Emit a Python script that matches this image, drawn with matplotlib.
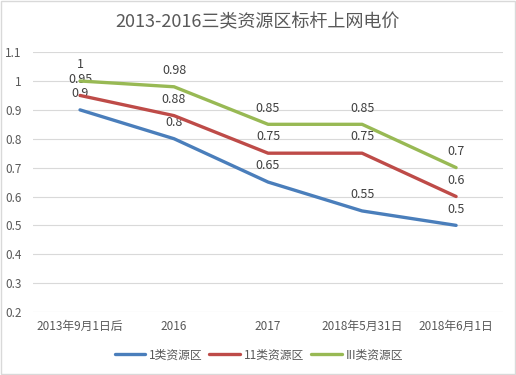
import numpy as np
import matplotlib
matplotlib.use("Agg")
import matplotlib.pyplot as plt

plt.rcParams['font.family'] = ['Noto Sans CJK SC', 'DejaVu Sans']

categories = ["2013年9月1日后", "2016", "2017", "2018年5月31日", "2018年6月1日"]
series_names = ["1类资源区", "11类资源区", "III类资源区"]
class1 = [0.9, 0.8, 0.65, 0.55, 0.5]
class2 = [0.95, 0.88, 0.75, 0.75, 0.6]
class3 = [1.0, 0.98, 0.85, 0.85, 0.7]
yticks = [0.2, 0.3, 0.4, 0.5, 0.6, 0.7, 0.8, 0.9, 1.0, 1.1]
colors = ["#4A7EBB", "#BE4B48", "#98B954"]

fig = plt.figure(figsize=(5.16, 3.75), dpi=100)
ax = fig.add_axes([0.064, 0.168, 0.911, 0.693])

x = np.arange(len(categories))
for vals, name, c in zip([class1, class2, class3], series_names, colors):
    ax.plot(x, vals, color=c, lw=2.4, label=name, solid_capstyle='round', zorder=3)
    for xi, v in zip(x, vals):
        ax.annotate("%g" % v, (xi, v), xytext=(0, 7), textcoords="offset points",
                    ha="center", va="bottom", fontsize=9, color="#404040")

ax.set_xlim(-0.5, len(categories) - 0.5)
ax.set_ylim(0.2, 1.1)
ax.set_yticks(yticks)
ax.set_yticklabels(["%g" % t for t in yticks])
ax.set_xticks(x)
ax.set_xticklabels(categories)
ax.tick_params(length=0, labelsize=8.5, labelcolor="#595959")
ax.tick_params(axis='y', pad=8)
ax.tick_params(axis='x', pad=6)
ax.grid(axis='y', color="#D9D9D9", lw=0.8)
ax.set_axisbelow(True)
for s in ax.spines.values():
    s.set_visible(False)

fig.text(0.5, 0.94, "2013-2016三类资源区标杆上网电价", ha="center", va="center",
         fontsize=13, color="#595959")
ax.legend(loc="upper center", bbox_to_anchor=(0.48, -0.1), ncol=3, frameon=False,
          fontsize=8.5, handlelength=2.6, handletextpad=0.3, columnspacing=0.6,
          labelcolor="#595959")

fig.patches.append(plt.Rectangle((0.002, 0.002), 0.996, 0.996, transform=fig.transFigure,
                                 fill=False, ec="#D9D9D9", lw=1))

fig.savefig("out.png", dpi=100)
